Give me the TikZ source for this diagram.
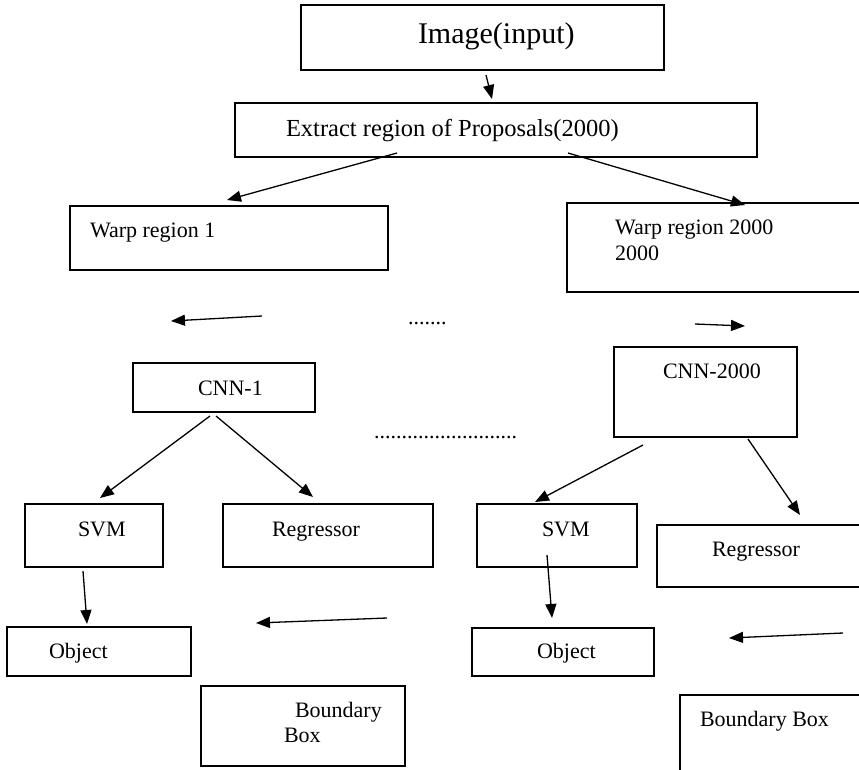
\documentclass[tikz,border=0pt]{standalone}
\usepackage{fontspec}
\setmainfont{Liberation Serif}
\usetikzlibrary{arrows.meta}
\begin{document}
\begin{tikzpicture}[x=1pt,y=-1pt,
  box/.style={draw,line width=1.6pt,inner sep=0pt,outer sep=0pt},
  lbl/.style={anchor=base west,inner sep=0pt,outer sep=0pt,font=\fontsize{22}{26}\selectfont},
  flow/.style={line width=1.3pt,-{Triangle[length=14pt,width=11pt]}}]
\useasboundingbox (0,0) rectangle (859,769);
\clip (0,0) rectangle (859,769);

% boxes
\node[box,minimum width=363pt,minimum height=65pt] (img)   at (482.5,37.5) {};
\node[box,minimum width=522pt,minimum height=54pt] (ext)   at (496,130) {};
\node[box,minimum width=318pt,minimum height=64pt] (warpA) at (229,238) {};
\node[box,minimum width=318pt,minimum height=89pt] (warpB) at (726,247.5) {};
\node[box,minimum width=182pt,minimum height=49pt] (cnnA)  at (224,387.5) {};
\node[box,minimum width=183pt,minimum height=90pt] (cnnB)  at (705.5,392) {};
\node[box,minimum width=138pt,minimum height=63pt] (svmA)  at (94,535.5) {};
\node[box,minimum width=210pt,minimum height=63pt] (regA)  at (328,535.5) {};
\node[box,minimum width=160pt,minimum height=63pt] (svmB)  at (557,535.5) {};
\node[box,minimum width=223pt,minimum height=62pt] (regB)  at (768.5,556) {};
\node[box,minimum width=184pt,minimum height=49pt] (objA)  at (99,651.5) {};
\node[box,minimum width=182pt,minimum height=48pt] (objB)  at (563,652) {};
\node[box,minimum width=204pt,minimum height=80pt] (bbA)   at (303,726) {};
\node[box,minimum width=200pt,minimum height=105pt] (bbB)  at (780,747.5) {};

% labels
\node[lbl,font=\fontsize{30}{34}\selectfont] (timg) at (418,43) {Image(input)};
\node[lbl,font=\fontsize{24.5}{28}\selectfont] (text) at (286,136) {Extract region of Proposals(2000)};
\node[lbl] (twarpA)  at (90,237)  {Warp region 1};
\node[lbl] (twarpB1) at (615,234) {Warp region 2000};
\node[lbl] (twarpB2) at (615,260) {2000};
\node[lbl] (tcnnA)   at (198,395) {CNN-1};
\node[lbl] (tcnnB)   at (663,378) {CNN-2000};
\node[lbl] (tsvmA)   at (78,536)  {SVM};
\node[lbl] (tregA)   at (272,536) {Regressor};
\node[lbl] (tsvmB)   at (542,536) {SVM};
\node[lbl] (tregB)   at (712,556) {Regressor};
\node[lbl] (tobjA)   at (49,658)  {Object};
\node[lbl] (tobjB)   at (537,658) {Object};
\node[lbl] (tbbA1)   at (295,717) {Boundary};
\node[lbl] (tbbA2)   at (284,742) {Box};
\node[lbl] (tbbB)    at (700,726) {Boundary Box};
\node[lbl] (dotsA)   at (408,324) {.......};
\node[lbl] (dotsB)   at (374,438) {..........................};

% connector end points
\coordinate (p1s) at (486,75);   \coordinate (p1e) at (492,99);
\coordinate (p2s) at (397,153);  \coordinate (p2e) at (227,200);
\coordinate (p3s) at (568,153);  \coordinate (p3e) at (745,205);
\coordinate (p4s) at (262,316);  \coordinate (p4e) at (171,321);
\coordinate (p5s) at (695,324);  \coordinate (p5e) at (745,326);
\coordinate (p6s) at (210,416);  \coordinate (p6e) at (100,498);
\coordinate (p7s) at (216,416);  \coordinate (p7e) at (313,497);
\coordinate (p8s) at (643,445);  \coordinate (p8e) at (535,502);
\coordinate (p9s) at (748,439);  \coordinate (p9e) at (800,515);
\coordinate (p10s) at (83,571);  \coordinate (p10e) at (87,624);
\coordinate (p11s) at (547,555); \coordinate (p11e) at (552,618);
\coordinate (p12s) at (387,618); \coordinate (p12e) at (256,623);
\coordinate (p13s) at (843,633); \coordinate (p13e) at (729,638);

% connectors
\foreach \i in {1,...,13} \draw[flow] (p\i s) -- (p\i e);
\end{tikzpicture}
\end{document}
